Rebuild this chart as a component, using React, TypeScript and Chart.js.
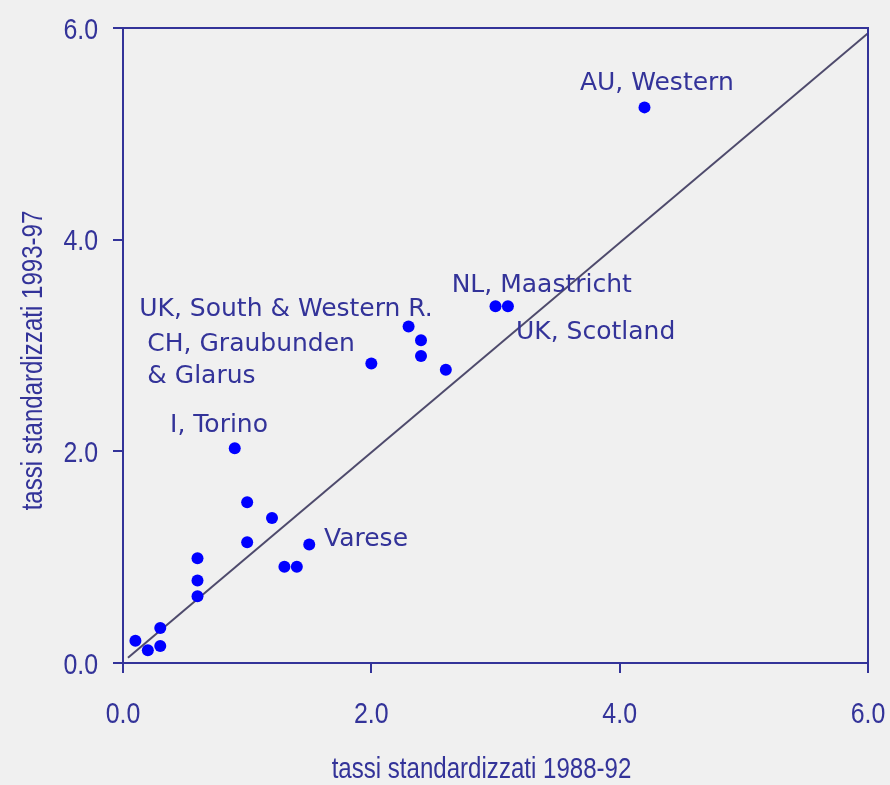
import React, { useEffect, useRef } from "react";
import { Chart, registerables } from "chart.js";

Chart.register(...registerables);

// Data
const xValues = [4.2, 3.0, 3.1, 2.3, 2.4, 2.4, 2.6, 2.0, 0.9, 1.0, 1.2, 1.0, 1.5, 1.3, 1.4, 0.6, 0.6, 0.6, 0.3, 0.1, 0.2, 0.3];
const yValues = [5.25, 3.37, 3.37, 3.18, 3.05, 2.9, 2.77, 2.83, 2.03, 1.52, 1.37, 1.14, 1.12, 0.91, 0.91, 0.99, 0.78, 0.63, 0.33, 0.21, 0.12, 0.16];

const refLineX = [0.04, 6.0];
const refLineY = [0.05, 5.95];

const labelTexts = ["AU, Western", "NL, Maastricht", "UK, South & Western R.", "UK, Scotland", "CH, Graubunden", "& Glarus", "I, Torino", "Varese"];
const labelX = [3.68, 2.647, 0.131, 3.165, 0.196, 0.196, 0.379, 1.619];
const labelY = [5.5, 3.595, 3.364, 3.147, 3.033, 2.731, 2.268, 1.191];

const tickValues = [0, 2, 4, 6];
const tickLabels = ["0.0", "2.0", "4.0", "6.0"];
const xTitle = "tassi standardizzati 1988-92";
const yTitle = "tassi standardizzati 1993-97";

const AXIS = "#333399";
const TEXT = "#333399";
const POINT = "#0000ff";
const LINE = "#4e4a6c";
const BG = "#f0f0f0";
const SANS = "'Liberation Sans', Arial, sans-serif";
const LABEL_FONT = "'DejaVu Sans', Verdana, sans-serif";
const CONDENSE = 0.83;

function condensedText(ctx: any, text: string, x: number, y: number, align: string) {
  ctx.save();
  ctx.translate(x, y);
  ctx.scale(CONDENSE, 1);
  ctx.textAlign = align;
  ctx.fillText(text, 0, 0);
  ctx.restore();
}

const decorPlugin = {
  id: "decor",
  beforeDraw(chart: any) {
    const { ctx, width, height } = chart;
    ctx.save();
    ctx.fillStyle = BG;
    ctx.fillRect(0, 0, width, height);
    ctx.restore();
  },
  afterDraw(chart: any) {
    const { ctx, chartArea } = chart;
    const xs = chart.scales.x;
    const ys = chart.scales.y;
    ctx.save();
    // top and right frame lines
    ctx.strokeStyle = AXIS;
    ctx.lineWidth = 2;
    ctx.beginPath();
    ctx.moveTo(chartArea.left - 1, chartArea.top);
    ctx.lineTo(chartArea.right, chartArea.top);
    ctx.lineTo(chartArea.right, chartArea.bottom);
    ctx.stroke();

    ctx.fillStyle = TEXT;
    ctx.textBaseline = "alphabetic";

    // tick labels (condensed sans)
    const tfs = 30;
    ctx.font = `${tfs}px ${SANS}`;
    tickValues.forEach((v, i) => {
      const px = xs.getPixelForValue(v);
      condensedText(ctx, tickLabels[i], px, chartArea.bottom + 49 + 0.716 * tfs / 2, "center");
      const py = ys.getPixelForValue(v);
      condensedText(ctx, tickLabels[i], chartArea.left - 25, py + 0.716 * tfs / 2, "right");
    });

    // point annotations
    const fs = 25;
    ctx.font = `${fs}px ${LABEL_FONT}`;
    ctx.textAlign = "left";
    labelTexts.forEach((t, i) => {
      const px = xs.getPixelForValue(labelX[i]);
      const py = ys.getPixelForValue(labelY[i]);
      ctx.fillText(t, px, py + 0.729 * fs / 2);
    });

    // axis titles
    const afs = 29;
    ctx.font = `${afs}px ${SANS}`;
    const cx = (chartArea.left + chartArea.right) / 2 - 14;
    condensedText(ctx, xTitle, cx, chartArea.bottom + 115, "center");
    const cy = (chartArea.top + chartArea.bottom) / 2 + 15;
    ctx.translate(chartArea.left - 81, cy);
    ctx.rotate(-Math.PI / 2);
    condensedText(ctx, yTitle, 0, 0, "center");
    ctx.restore();
  },
};

export default function App() {
  const ref = useRef<HTMLCanvasElement | null>(null);
  useEffect(() => {
    document.body.style.margin = "0";
    document.body.style.background = BG;
    const canvas = ref.current;
    if (!canvas) return;
    const chart = new Chart(canvas, {
      type: "scatter",
      data: {
        datasets: [
          {
            type: "scatter",
            data: xValues.map((x, i) => ({ x, y: yValues[i] })),
            backgroundColor: POINT,
            borderWidth: 0,
            pointRadius: 6,
            order: 1,
          },
          {
            type: "line",
            data: refLineX.map((x, i) => ({ x, y: refLineY[i] })),
            borderColor: LINE,
            borderWidth: 2,
            pointRadius: 0,
            fill: false,
            order: 2,
          } as any,
        ],
      },
      options: {
        animation: false,
        responsive: false,
        devicePixelRatio: 1,
        layout: { padding: { left: 0, top: 28, right: 22, bottom: 0 } },
        plugins: { legend: { display: false }, tooltip: { enabled: false } },
        events: [],
        scales: {
          x: {
            type: "linear",
            min: 0,
            max: 6,
            afterBuildTicks: (s: any) => { s.ticks = tickValues.map((v) => ({ value: v })); },
            afterFit: (s: any) => { s.height = 122; },
            ticks: { display: false },
            grid: { drawOnChartArea: false, drawTicks: true, tickLength: 10, color: AXIS, lineWidth: 2 },
            border: { color: AXIS, width: 2 },
          },
          y: {
            type: "linear",
            min: 0,
            max: 6,
            afterBuildTicks: (s: any) => { s.ticks = tickValues.map((v) => ({ value: v })); },
            afterFit: (s: any) => { s.width = 123; },
            ticks: { display: false },
            grid: { drawOnChartArea: false, drawTicks: true, tickLength: 10, color: AXIS, lineWidth: 2 },
            border: { color: AXIS, width: 2 },
          },
        },
      } as any,
      plugins: [decorPlugin],
    });
    return () => chart.destroy();
  }, []);
  return (
    <div style={{ width: 890, height: 785 }}>
      <canvas ref={ref} width={890} height={785} style={{ display: "block" }} />
    </div>
  );
}
